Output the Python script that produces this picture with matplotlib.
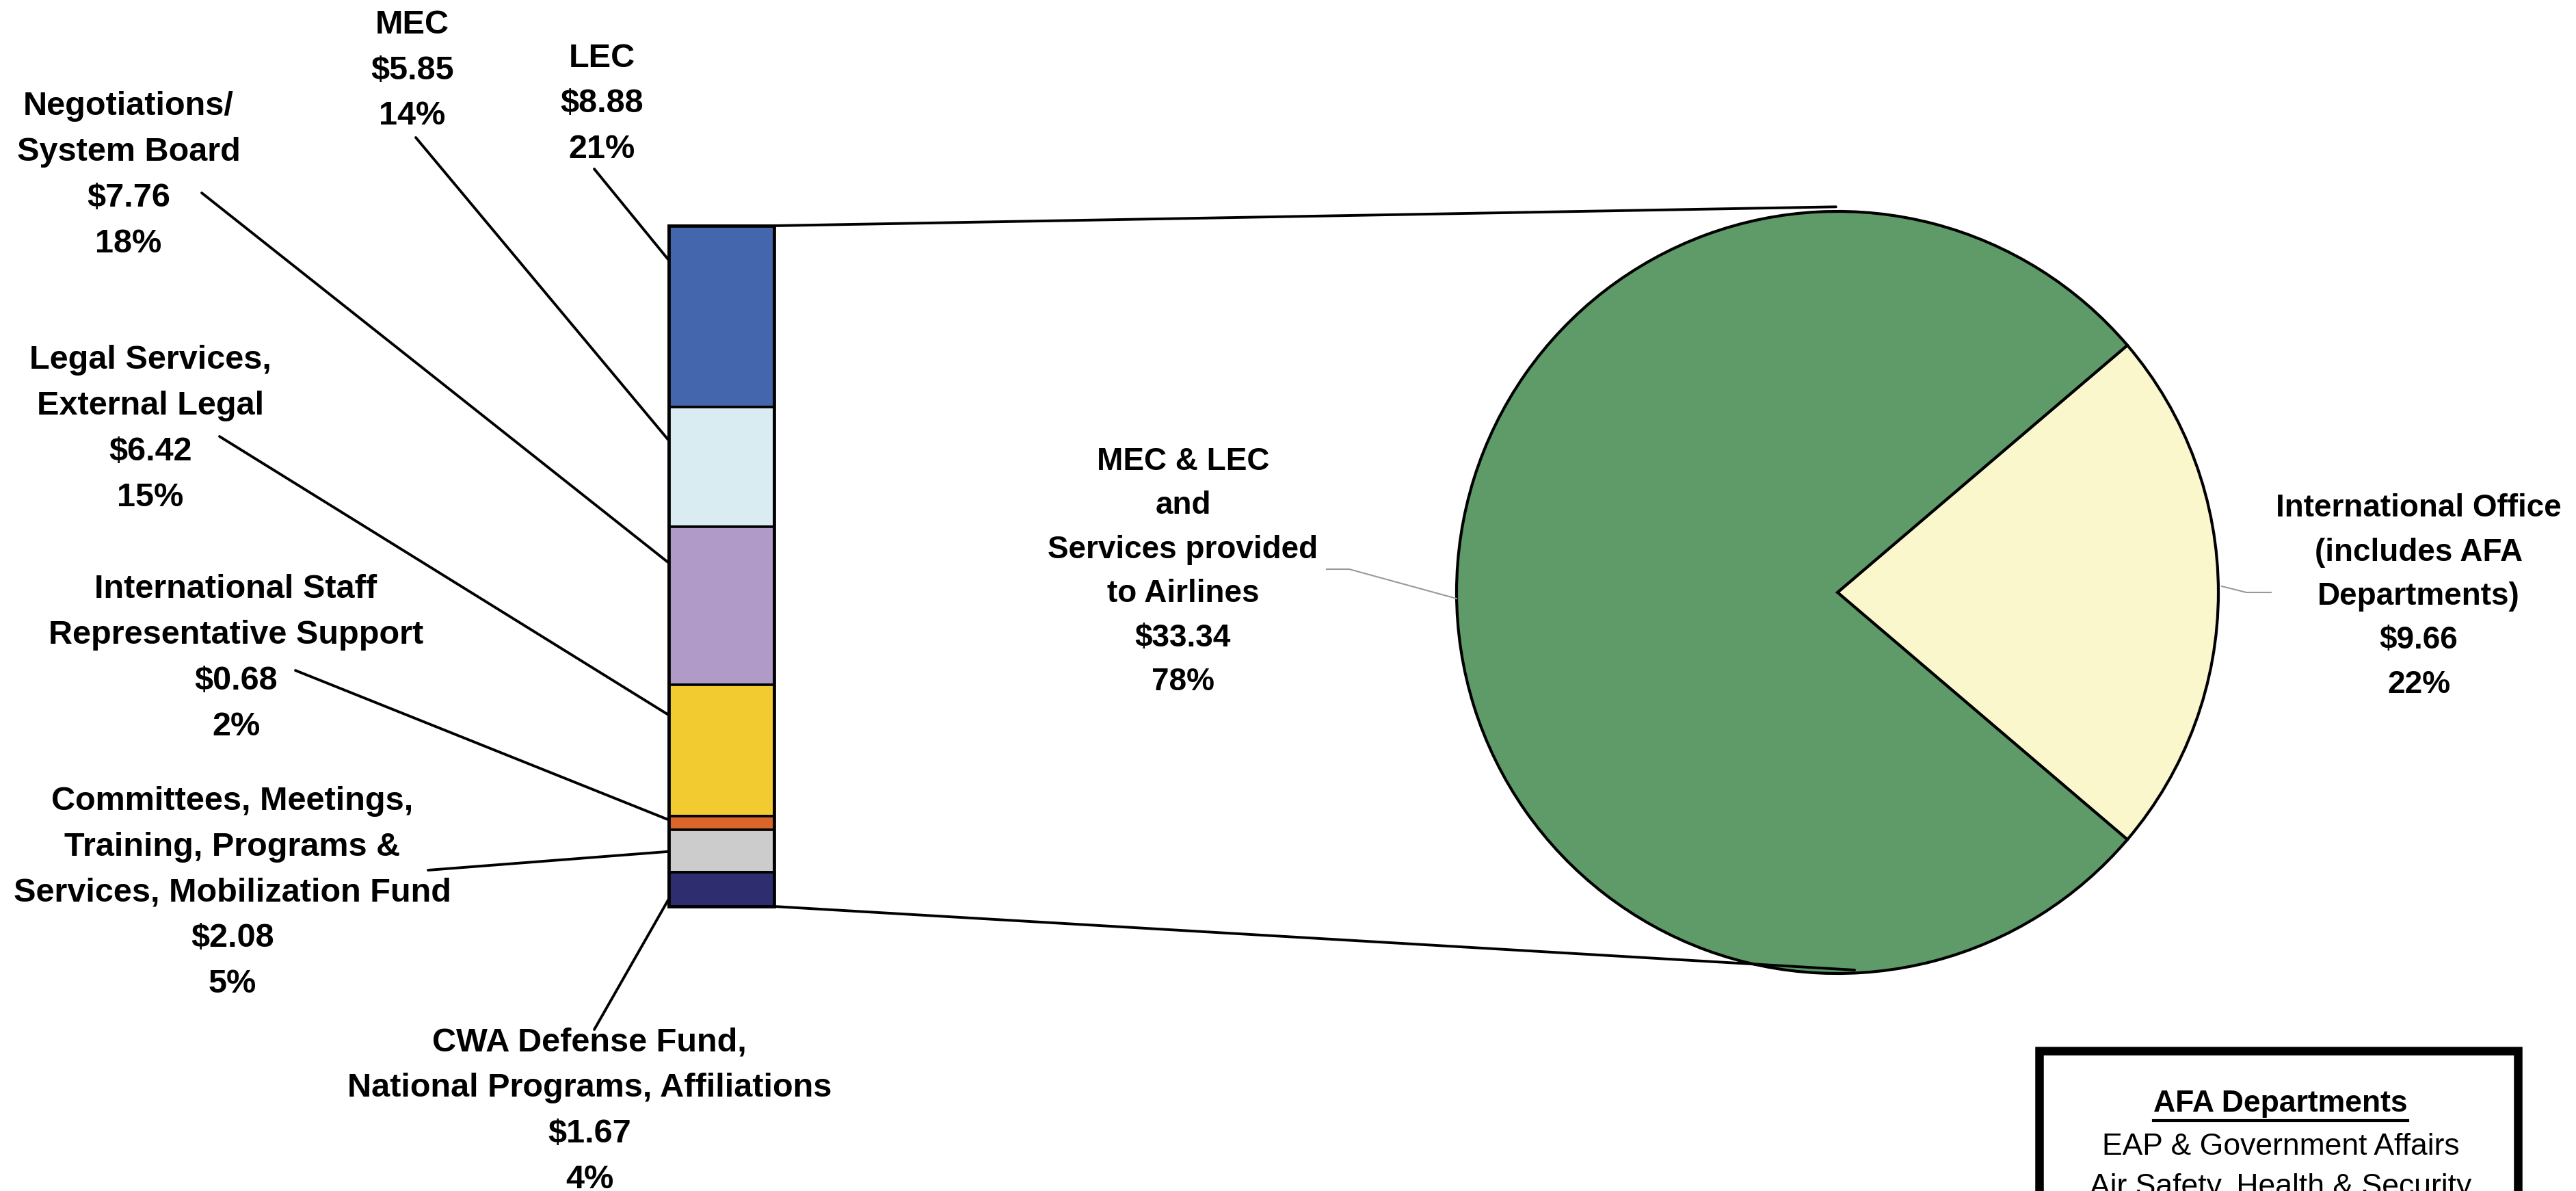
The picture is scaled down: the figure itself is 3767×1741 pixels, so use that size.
import matplotlib
matplotlib.use("Agg")
import matplotlib.pyplot as plt
from matplotlib.patches import Rectangle, ConnectionPatch
from matplotlib.lines import Line2D

plt.rcParams["font.family"] = ["Liberation Sans", "DejaVu Sans"]

# ---------------- data ----------------
bar_labels = [
    "LEC",
    "MEC",
    "Negotiations/\nSystem Board",
    "Legal Services,\nExternal Legal",
    "International Staff\nRepresentative Support",
    "Committees, Meetings,\nTraining, Programs &\nServices, Mobilization Fund",
    "CWA Defense Fund,\nNational Programs, Affiliations",
]
bar_values = [8.88, 5.85, 7.76, 6.42, 0.68, 2.08, 1.67]
bar_pcts = [21, 14, 18, 15, 2, 5, 4]
bar_colors = ["#4466AC", "#D9ECF2", "#B09AC8", "#F2CB31", "#D9652A", "#CCCCCC", "#2E2D70"]

pie_labels = ["International Office\n(includes AFA\nDepartments)",
              "MEC & LEC\nand\nServices provided\nto Airlines"]
pie_values = [9.66, 33.34]
pie_pcts = [22, 78]
pie_colors = ["#FAF7CD", "#5E9B68"]

legend_title = "AFA Departments"
legend_lines = ["EAP & Government Affairs", "Air Safety, Health & Security"]

# ---------------- layout (pixels, y measured downward) ----------------
W, H, DPI = 3767, 1741, 100
fig = plt.figure(figsize=(W / DPI, H / DPI), dpi=DPI)
fig.patch.set_facecolor("white")


def fx(x):
    return x / W


def fy(y):
    return 1 - y / H


FS_BAR, LS_BAR = 35, 1.62
FS_PIE, LS_PIE = 33, 1.60
LW = 2.8

# stacked bar
bar_l, bar_r, bar_t, bar_b = 978, 1132, 330, 1325
ax_bar = fig.add_axes([fx(bar_l), fy(bar_b), (bar_r - bar_l) / W, (bar_b - bar_t) / H])
total = sum(bar_values)
ax_bar.set_xlim(-0.5, 0.5)
ax_bar.set_ylim(0, total)
ax_bar.axis("off")
bottoms = []
top = total
for v, c in zip(bar_values, bar_colors):
    b = top - v
    bottoms.append(b)
    ax_bar.bar(0, v, bottom=b, width=1.0, color=c, edgecolor="black", linewidth=2.6,
               clip_on=False)
    top = b
ax_bar.add_patch(Rectangle((-0.5, 0), 1.0, total, fill=False, edgecolor="black",
                           linewidth=3.4, clip_on=False))

# pie
cx, cy, r = 2687, 866, 557
pad = 1.1
ax_pie = fig.add_axes([fx(cx - r * pad), fy(cy + r * pad), 2 * r * pad / W, 2 * r * pad / H])
start = -180.0 * pie_values[0] / sum(pie_values)
ax_pie.pie(pie_values, colors=pie_colors, startangle=start, counterclock=True, radius=1.0,
           wedgeprops=dict(edgecolor="black", linewidth=3.0))
ax_pie.set_xlim(-pad, pad)
ax_pie.set_ylim(-pad, pad)
ax_pie.axis("off")

# connector lines bar -> pie
for ya, pb in [(total, (-0.004, 1.012)), (0.0, (0.045, -0.991))]:
    con = ConnectionPatch(xyA=(0.5, ya), coordsA=ax_bar.transData,
                          xyB=pb, coordsB=ax_pie.transData,
                          color="black", linewidth=LW)
    fig.add_artist(con)

# bar labels
label_pos = [(880, 152), (603, 103), (188, 256), (220, 627), (345, 962), (340, 1305), (862, 1624)]
leader_start = [(869, 247), (608, 201), (295, 282), (321, 638), (432, 980), (626, 1272), (869, 1505)]
leader_frac = [0.81, 0.72, 0.77, 0.77, 0.72, 0.49, 0.22]

for lab, v, p, (tx, ty), (sx, sy), fr, b in zip(bar_labels, bar_values, bar_pcts, label_pos,
                                                leader_start, leader_frac, bottoms):
    fig.text(fx(tx), fy(ty), f"{lab}\n${v:.2f}\n{p}%", ha="center", va="center",
             multialignment="center", fontsize=FS_BAR, fontweight="bold", linespacing=LS_BAR)
    con = ConnectionPatch(xyA=(fx(sx), fy(sy)), coordsA=fig.transFigure,
                          xyB=(-0.5, b + fr * v), coordsB=ax_bar.transData,
                          color="black", linewidth=LW)
    fig.add_artist(con)

# pie labels
pie_label_pos = [(3537, 872), (1730, 836)]
for lab, v, p, (tx, ty) in zip(pie_labels, pie_values, pie_pcts, pie_label_pos):
    fig.text(fx(tx), fy(ty), f"{lab}\n${v:.2f}\n{p}%", ha="center", va="center",
             multialignment="center", fontsize=FS_PIE, fontweight="bold", linespacing=LS_PIE)

pie_leaders = [[(3249, 857), (3285, 866), (3321, 866)],
               [(1940, 832), (1973, 832), (2130, 875)]]
for pts in pie_leaders:
    fig.add_artist(Line2D([fx(x) for x, _ in pts], [fy(y) for _, y in pts],
                          color="#999999", linewidth=1.5, transform=fig.transFigure))

# legend box
fig.add_artist(Rectangle((fx(2982), -0.05), 700 / W, fy(1536) + 0.05, fill=False,
                         edgecolor="black", linewidth=9, transform=fig.transFigure))
t_title = fig.text(fx(3335), fy(1614), legend_title, ha="center", va="center",
                   fontsize=32, fontweight="bold")
for i, line in enumerate(legend_lines):
    fig.text(fx(3335), fy(1676 + 60 * i), line, ha="center", va="center", fontsize=32)

fig.canvas.draw()
bb = t_title.get_window_extent()
uy = bb.y0 - 3
fig.add_artist(Line2D([bb.x0 / W, bb.x1 / W], [uy / H, uy / H], color="black",
                      linewidth=3.0, transform=fig.transFigure))

fig.savefig("out.png", dpi=DPI, facecolor="white")
